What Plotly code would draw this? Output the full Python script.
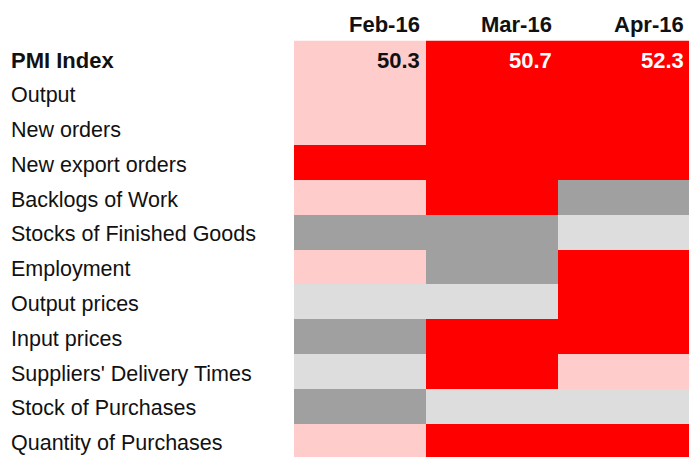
import plotly.graph_objects as go

months = ["Feb-16", "Mar-16", "Apr-16"]
rows = ["PMI Index", "Output", "New orders", "New export orders", "Backlogs of Work",
        "Stocks of Finished Goods", "Employment", "Output prices", "Input prices",
        "Suppliers' Delivery Times", "Stock of Purchases", "Quantity of Purchases"]
pmi_values = [50.3, 50.7, 52.3]
# status codes: 0 = dark grey, 1 = light grey, 2 = light pink, 3 = red
status = [
    [2, 3, 3],
    [2, 3, 3],
    [2, 3, 3],
    [3, 3, 3],
    [2, 3, 0],
    [0, 0, 1],
    [2, 0, 3],
    [1, 1, 3],
    [0, 3, 3],
    [1, 3, 2],
    [0, 1, 1],
    [2, 3, 3],
]
status_colors = ["#A0A0A0", "#DDDDDD", "#FFCCCC", "#FF0000"]

W, H = 689, 457
top = 40.5
row_h = 34.8
left = 294
col_w = 132

FONT = "Liberation Sans, Arial, sans-serif"

cs = []
n = len(status_colors)
for i, c in enumerate(status_colors):
    cs.append([i / n, c])
    cs.append([(i + 1) / n, c])

fig = go.Figure(go.Heatmap(
    z=status, x=list(range(3)), y=list(range(len(rows))),
    colorscale=cs, zmin=-0.5, zmax=n - 0.5, showscale=False, hoverinfo="skip",
))

visible_rows = (H - top) / row_h
x_end = -0.5 + (W - left) / col_w
fig.update_layout(
    width=W, height=H, margin=dict(l=0, r=0, t=0, b=0),
    paper_bgcolor="white", plot_bgcolor="white",
    xaxis=dict(domain=[left / W, 1], range=[-0.5, x_end], visible=False, fixedrange=True),
    yaxis=dict(domain=[0, 1 - top / H], range=[-0.5 + visible_rows, -0.5], visible=False, fixedrange=True),
    showlegend=False,
)


def py(row, shift=2.5):
    return 1 - (top + row_h * (row + 0.5) + shift) / H


ann = []
for i, r in enumerate(rows):
    bold = i == 0
    ann.append(dict(x=9 / W, xref="paper", y=py(i), yref="paper", xanchor="left", yanchor="middle",
                    text=f"<b>{r}</b>" if bold else r, showarrow=False,
                    font=dict(family=FONT, size=22 if bold else 21.5, color="#111111")))
for j, m in enumerate(months):
    xr = (left + col_w * (j + 1) - 4) / W
    ann.append(dict(x=xr, xref="paper", y=1 - 25 / H, yref="paper", xanchor="right", yanchor="middle",
                    text=f"<b>{m}</b>", showarrow=False,
                    font=dict(family=FONT, size=22, color="#111111")))
    col = "white" if status[0][j] == 3 else "#111111"
    ann.append(dict(x=xr, xref="paper", y=py(0), yref="paper", xanchor="right", yanchor="middle",
                    text=f"<b>{pmi_values[j]:.1f}</b>", showarrow=False,
                    font=dict(family=FONT, size=22, color=col)))
fig.update_layout(annotations=ann)

fig.write_html("out.html", config={"displayModeBar": False},
               post_script="document.body.style.margin='0';document.body.style.overflow='hidden';")
